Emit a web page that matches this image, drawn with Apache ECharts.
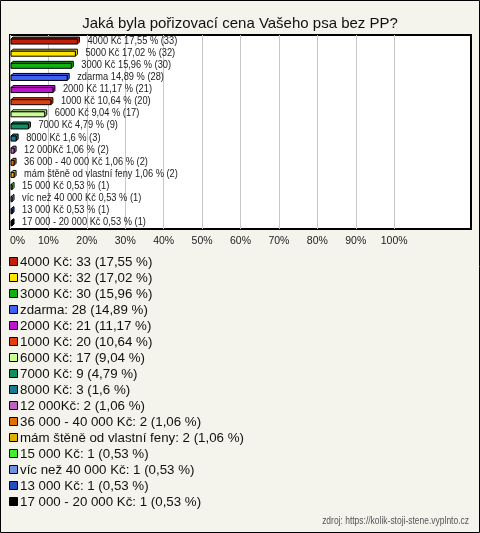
<!DOCTYPE html>
<html><head><meta charset="utf-8">
<script src="https://cdn.jsdelivr.net/npm/echarts@6/dist/echarts.min.js"></script>
<style>html,body{margin:0;padding:0;background:#f4f3ec}#c{width:480px;height:533px}</style>
</head><body><div id="c"></div>
<script>
const title = 'Jaká byla pořizovací cena Vašeho psa bez PP?';
const categories = ['4000 Kč','5000 Kč','3000 Kč','zdarma','2000 Kč','1000 Kč','6000 Kč','7000 Kč','8000 Kč','12 000Kč','36 000 - 40 000 Kč','mám štěně od vlastní feny','15 000 Kč','víc než 40 000 Kč','13 000 Kč','17 000 - 20 000 Kč'];
const counts = [33,32,30,28,21,20,17,9,3,2,2,2,1,1,1,1];
const percents = [17.55,17.02,15.96,14.89,11.17,10.64,9.04,4.79,1.6,1.06,1.06,1.06,0.53,0.53,0.53,0.53];
const colors = ['#c0200a','#ffe400','#10b010','#4060f0','#c010d0','#e04010','#c8ff90','#109060','#1a7a90','#c060c0','#e07000','#e0b000','#40f030','#7090e0','#2050c0','#000000'];
const tickLabels = ['0%','10%','20%','30%','40%','50%','60%','70%','80%','90%','100%'];
const source = 'zdroj: https://kolik-stoji-stene.vyplnto.cz';

const FONT = '"Liberation Sans", Arial, sans-serif';
const fmt = p => String(p).replace('.', ',');

const chart = echarts.init(document.getElementById('c'), null, {renderer: 'canvas'});

const legendGraphics = [];
categories.forEach((c, i) => {
  const y = 262 + 16 * i;
  legendGraphics.push({type: 'rect', shape: {x: 9.5, y: y - 4.5, width: 8, height: 8},
    style: {fill: colors[i], stroke: '#000', lineWidth: 1}});
  legendGraphics.push({type: 'text', x: 20, y: y, style: {text: c + ': ' + counts[i] + ' (' + fmt(percents[i]) + ' %)',
    font: '13.3px ' + FONT, fill: '#111', textVerticalAlign: 'middle', verticalAlign: 'middle'}});
});

const splitColors = [];
for (let i = 0; i <= 12; i++) splitColors.push(i <= 10 ? '#c8c8c8' : 'rgba(0,0,0,0)');

chart.setOption({
  backgroundColor: '#f4f3ec',
  animation: false,
  title: {text: title, left: 'center', top: 11, textStyle: {fontFamily: FONT, fontSize: 15, fontWeight: 'normal', color: '#111'}},
  grid: {left: 10, right: 9, top: 35, height: 194, show: true, backgroundColor: '#fff', borderColor: '#000', borderWidth: 2, containLabel: false},
  xAxis: {type: 'value', min: 0, max: 120, interval: 10,
    axisLine: {show: false}, axisTick: {show: false},
    splitLine: {show: true, lineStyle: {color: splitColors, width: 1}},
    axisLabel: {margin: 7, fontFamily: FONT, fontSize: 10.5, color: '#222', alignMinLabel: 'left',
      formatter: v => (v / 10 < tickLabels.length ? tickLabels[v / 10] : '')}},
  yAxis: {type: 'category', data: categories, inverse: true, show: false},
  series: [{
    type: 'custom',
    data: percents.map((p, i) => [p, i]),
    encode: {x: 0, y: 1},
    renderItem: (params, api) => {
      const i = params.dataIndex;
      const v = api.value(0);
      const s = api.coord([0, api.value(1)]);
      const e = api.coord([v, api.value(1)]);
      const h = 5, d = 2;
      const x0 = s[0] + 1, x1 = e[0];
      const y0 = e[1] - h / 2 + 0.5, y1 = y0 + h;
      return {type: 'group', children: [
        {type: 'polygon', shape: {points: [[x0, y0], [x0 + d, y0 - d], [x1 + d, y0 - d], [x1 + d, y1 - d], [x1, y1], [x1, y0]]},
          style: {fill: colors[i], stroke: '#000', lineWidth: 1}},
        {type: 'rect', shape: {x: x0, y: y0, width: Math.max(x1 - x0, 1), height: h},
          style: {fill: colors[i], stroke: '#000', lineWidth: 1}},
        {type: 'text', x: x1 + d + 8, y: e[1] - 0.5, scaleX: 0.86,
          style: {text: categories[i] + ' ' + fmt(v) + ' % (' + counts[i] + ')', font: '10.8px ' + FONT, fill: '#222',
            verticalAlign: 'middle', textVerticalAlign: 'middle'}}
      ]};
    }
  }],
  graphic: [
    {type: 'rect', shape: {x: 0.5, y: 0.5, width: 479, height: 532}, style: {fill: 'none', stroke: '#000', lineWidth: 1}, z: 100},
    ...legendGraphics,
    {type: 'text', x: 469, y: 521, scaleX: 0.77, style: {text: source, font: '11px ' + FONT, fill: '#555', align: 'right', textAlign: 'right',
      verticalAlign: 'middle', textVerticalAlign: 'middle'}}
  ]
});
</script></body></html>
